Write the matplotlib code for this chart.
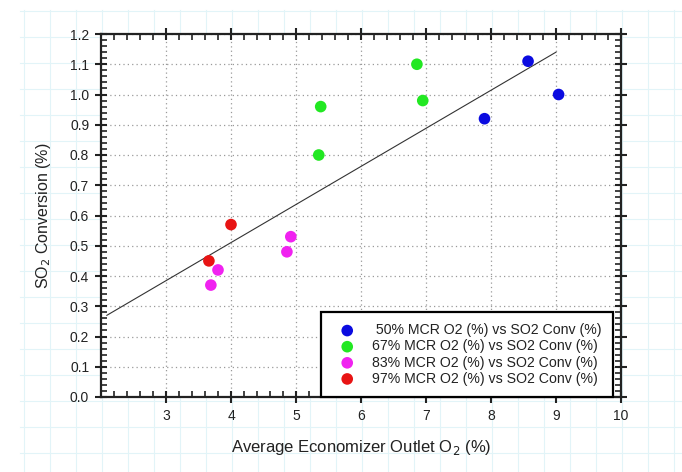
import numpy as np
import matplotlib
matplotlib.use("Agg")
import matplotlib.pyplot as plt
from matplotlib.lines import Line2D
from matplotlib.ticker import MultipleLocator

plt.rcParams["font.family"] = ["Liberation Sans", "DejaVu Sans"]

# --- datos -----------------------------------------------------------
o2_50 = [8.57, 9.04, 7.90]
so2_50 = [1.11, 1.00, 0.92]
o2_67 = [6.86, 6.95, 5.38, 5.35]
so2_67 = [1.10, 0.98, 0.96, 0.80]
o2_83 = [4.92, 4.86, 3.80, 3.69]
so2_83 = [0.53, 0.48, 0.42, 0.37]
o2_97 = [4.00, 3.66]
so2_97 = [0.57, 0.45]

trend_x = [2.09, 9.00]
trend_y = [0.27, 1.14]

series = [
    (" 50% MCR O2 (%) vs SO2 Conv (%)", o2_50, so2_50, "#0b0be0"),
    ("67% MCR O2 (%) vs SO2 Conv (%)", o2_67, so2_67, "#22e822"),
    ("83% MCR O2 (%) vs SO2 Conv (%)", o2_83, so2_83, "#f022f0"),
    ("97% MCR O2 (%) vs SO2 Conv (%)", o2_97, so2_97, "#e81414"),
]

fig = plt.figure(figsize=(6.82, 4.72), dpi=100)

# fondo tipo papel cuadriculado (captura de pantalla)
for px in np.arange(24, 682, 26):
    fig.add_artist(Line2D([px / 682, px / 682], [0, 1 - 10 / 472],
                          color="#e2f4f8", lw=0.8, zorder=0))
for py in np.arange(11, 472, 26):
    fig.add_artist(Line2D([20 / 682, 1], [1 - py / 472, 1 - py / 472],
                          color="#e2f4f8", lw=0.8, zorder=0))

ax = fig.add_axes([101 / 682, 1 - 397 / 472, 520 / 682, 363 / 472])
ax.set_facecolor("white")

for label, x, y, c in series:
    ax.scatter(x, y, s=70, color=c, edgecolors="none", zorder=3, label=label)
ax.plot(trend_x, trend_y, color="#333333", lw=0.8, zorder=2)

ax.set_xlim(2, 10)
ax.set_ylim(0, 1.2)
ax.set_xticks(np.arange(3, 11, 1))
ax.set_yticks(np.round(np.arange(0, 1.21, 0.1), 1))
ax.set_yticklabels([f"{v:.1f}" for v in np.arange(0, 1.21, 0.1)])
ax.xaxis.set_minor_locator(MultipleLocator(0.2))
ax.yaxis.set_minor_locator(MultipleLocator(0.02))
ax.tick_params(which="major", direction="inout", length=9, width=1.5,
               top=True, right=True, labelsize=10, colors="#222222", pad=4)
ax.tick_params(which="minor", direction="in", length=4, width=1.2,
               top=True, right=True, color="#222222")
for s in ax.spines.values():
    s.set_linewidth(1.6)
    s.set_color("#222222")

ax.grid(which="major", color="#9a9a9a", lw=0.9, ls=(0, (1, 2.5)))

ax.set_xlabel("Average Economizer Outlet O$_2$ (%)", fontsize=12,
              color="#222222", labelpad=11)
ax.set_ylabel("SO$_2$ Conversion (%)", fontsize=11.5, color="#222222",
              labelpad=12)

leg = ax.legend(loc="lower right", bbox_to_anchor=(0.985, 0.0),
                fontsize=10.2, frameon=True, fancybox=False,
                edgecolor="black", framealpha=1, labelspacing=0.15,
                handlelength=2.05, handletextpad=0.75, borderpad=0.8,
                borderaxespad=0, scatterpoints=1)
leg.get_frame().set_linewidth(1.6)
for t in leg.get_texts():
    t.set_color("#222222")

fig.savefig("out.png", dpi=100)
